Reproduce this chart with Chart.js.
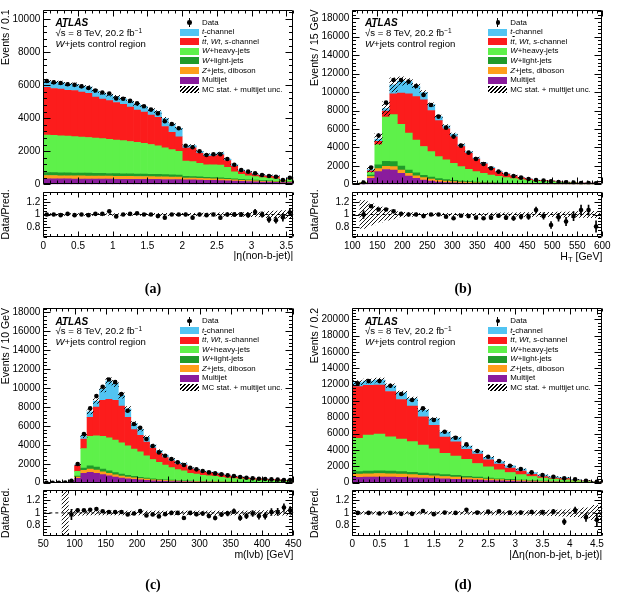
<!DOCTYPE html>
<html><head><meta charset="utf-8">
<script src="https://cdn.jsdelivr.net/npm/chart.js@4"></script>
<style>
body{margin:0;background:#fff;}
#wrap{position:relative;width:619px;height:595px;overflow:hidden;background:#fff;font-family:'Liberation Sans',Arial,Helvetica,sans-serif;color:#000;}
canvas{position:absolute;}
.t{position:absolute;white-space:nowrap;line-height:1;z-index:5;}
.t sup{font-size:0.68em;line-height:0;vertical-align:0.5em;}
.t sub{font-size:0.72em;line-height:0;vertical-align:-0.3em;}
.sw{position:absolute;width:19px;height:7px;z-index:5;}
</style></head><body><div id="wrap"></div>
<script>
// ================= DATA =================
// (a) |eta(non-b-jet)|, bins of 0.1
const aCenters=[0.05,0.15,0.25,0.35,0.45,0.55,0.65,0.75,0.85,0.95,1.05,1.15,1.25,1.35,1.45,1.55,1.65,1.75,1.85,1.95,2.05,2.15,2.25,2.35,2.45,2.55,2.65,2.75,2.85,2.95,3.05,3.15,3.25,3.35,3.45,3.55];
const aData=[6250,6170,6130,6060,6020,5930,5830,5680,5560,5500,5200,5180,5050,4900,4720,4520,4290,3820,3650,3390,2335,2240,2000,1770,1815,1815,1530,1185,865,765,665,565,500,460,260,400];
const aMJ=[330,330,325,325,320,320,315,315,310,310,305,305,300,300,300,295,295,290,290,285,270,265,255,245,235,225,215,200,185,170,155,140,130,120,100,110];
const aZ=[200,200,195,195,190,190,190,185,185,180,180,175,175,170,170,165,160,155,150,150,110,105,100,95,90,85,80,70,60,55,50,45,40,35,30,30];
const aWL=[180,180,180,175,175,175,170,170,170,165,165,160,160,155,155,150,145,140,135,130,100,95,90,85,80,75,70,60,55,50,45,40,35,30,25,25];
const aWH=[2270,2250,2240,2225,2205,2175,2155,2120,2095,2065,2030,2000,1955,1915,1855,1800,1730,1615,1525,1435,920,905,825,755,775,785,665,430,305,245,210,175,165,145,45,135];
const aTT=[2890,2840,2830,2765,2785,2720,2680,2495,2400,2345,2270,2195,2090,1955,1890,1785,1730,1300,1050,880,795,840,600,510,525,620,410,335,180,180,120,115,130,135,47,53];
const aTCH=[380,380,380,375,375,370,370,365,360,355,350,345,340,335,330,325,320,480,500,510,140,140,130,110,110,110,90,90,80,70,60,50,45,40,25,35];
const aRatio=[1,1,0.99,1.01,0.99,1,0.99,1.01,1.01,1.05,0.97,1,1.01,1.02,1,1,0.975,0.95,1,1,1,0.95,1,0.99,1,0.95,1,1,1,0.99,1.04,1,0.92,0.91,0.955,1.03];
const aErr=[0.013,0.013,0.013,0.013,0.013,0.013,0.013,0.014,0.014,0.014,0.014,0.014,0.015,0.015,0.015,0.015,0.016,0.017,0.017,0.018,0.021,0.021,0.022,0.024,0.024,0.024,0.026,0.03,0.035,0.037,0.04,0.043,0.046,0.048,0.062,0.05];
const aUnc=[0.015,0.015,0.015,0.015,0.015,0.015,0.015,0.015,0.015,0.015,0.015,0.015,0.015,0.016,0.016,0.016,0.017,0.018,0.018,0.018,0.02,0.02,0.021,0.023,0.024,0.025,0.028,0.03,0.032,0.034,0.036,0.04,0.05,0.055,0.06,0.06];
const aXTicks=[0,0.5,1,1.5,2,2.5,3,3.5];
const aYTicks=[0,2000,4000,6000,8000,10000];

// (b) H_T, bins of 15 GeV
const bCenters=[107.5,122.5,137.5,152.5,167.5,182.5,197.5,212.5,227.5,242.5,257.5,272.5,287.5,302.5,317.5,332.5,347.5,362.5,377.5,392.5,407.5,422.5,437.5,452.5,467.5,482.5,497.5,512.5,527.5,542.5,557.5,572.5,587.5];
const bData=[null,180,1810,5280,8850,11310,11310,11130,10660,9690,8600,7340,6140,5170,4190,3430,2750,2200,1735,1370,1120,900,720,580,470,400,325,250,215,180,145,145,110];
const bMJ=[0,100,650,1370,1600,1550,1180,890,650,470,350,250,200,150,120,100,80,65,55,45,38,32,27,22,18,15,12,10,8,7,6,5,5];
const bZ=[0,30,200,330,360,360,360,300,280,250,220,190,160,140,120,100,85,75,65,55,48,40,35,30,25,22,20,17,15,12,10,10,9];
const bWL=[0,15,150,400,540,540,430,350,300,250,210,180,150,130,110,95,80,70,60,50,45,38,32,28,24,20,18,15,12,10,9,8,8];
const bWH=[0,15,300,2200,4800,5100,4530,4010,3570,3130,2770,2380,2130,1860,1570,1335,1125,980,830,705,600,510,425,360,285,265,250,170,155,120,85,82,78];
const bTT=[0,5,150,350,650,2250,3380,4250,4700,5050,4450,3900,3360,2870,2160,1730,1370,1040,730,470,385,295,195,132,78,72,65,43,40,27,24,24,25];
const bTCH=[0,15,150,250,250,980,1320,1330,1160,800,650,450,350,300,220,160,140,110,90,70,55,45,35,28,22,18,15,12,10,8,6,6,5];
const bRatio=[null,1.0,1.13,1.08,1.08,1.05,1.01,1.0,1.0,0.975,1.0,1.0,0.965,0.94,0.98,0.975,0.95,0.94,0.95,0.98,0.95,0.94,0.965,0.965,1.07,0.975,0.835,0.955,0.89,0.975,1.07,1.07,0.81];
const bErr=[null,0.06,0.02,0.012,0.01,0.01,0.01,0.01,0.01,0.01,0.011,0.012,0.013,0.014,0.015,0.017,0.019,0.021,0.024,0.027,0.03,0.033,0.037,0.042,0.046,0.05,0.055,0.062,0.066,0.072,0.08,0.08,0.09];
const bUnc=[0,0.22,0.17,0.12,0.09,0.07,0.04,0.03,0.025,0.02,0.02,0.02,0.02,0.02,0.02,0.02,0.02,0.02,0.022,0.025,0.025,0.028,0.03,0.03,0.032,0.035,0.035,0.038,0.04,0.042,0.045,0.05,0.05];
const bXTicks=[100,150,200,250,300,350,400,450,500,550,600];
const bYTicks=[0,2000,4000,6000,8000,10000,12000,14000,16000,18000];

// (c) m(lvb), bins of 10 GeV
const cCenters=[55,65,75,85,95,105,115,125,135,145,155,165,175,185,195,205,215,225,235,245,255,265,275,285,295,305,315,325,335,345,355,365,375,385,395,405,415,425,435,445];
const cData=[0,0,0,20,200,1970,5140,7850,9150,10140,10910,10630,9360,7600,6200,5810,4610,3870,3200,2850,2500,2150,1870,1580,1410,1230,1090,985,880,775,705,600,530,460,420,390,350,320,280,280];
const cMJ=[0,0,0,5,150,450,1000,1100,1000,850,720,600,500,420,350,300,250,210,180,150,130,110,95,80,70,60,55,50,45,40,35,32,30,27,25,22,20,18,16,15];
const cZ=[0,0,0,0,25,150,300,350,330,300,270,240,210,185,160,140,120,105,90,80,70,60,55,48,42,37,33,30,27,24,21,19,17,15,14,12,11,10,9,8];
const cWL=[0,0,0,0,10,100,250,330,320,290,260,230,200,175,150,130,115,100,88,77,67,58,52,45,40,35,31,28,25,22,20,18,16,14,13,12,11,10,9,8];
const cWH=[0,0,0,0,15,500,2050,3120,3300,3460,3500,3430,3290,3120,2890,2680,2365,2035,1792,1543,1333,1152,1048,827,748,658,601,562,473,414,364,351,297,244,238,224,183,172,141,149];
const cTT=[0,0,0,0,5,600,1000,2000,3050,3800,4050,4200,3900,3000,2050,1750,1450,1200,950,800,700,600,600,460,430,360,340,320,260,220,200,180,160,130,120,110,95,85,70,75];
const cTCH=[0,0,0,0,0,100,340,580,630,1190,1950,1770,1120,900,660,640,500,320,290,260,200,170,180,120,110,90,90,80,70,60,50,50,40,35,30,30,25,20,15,15];
const cRatio=[null,null,null,null,0.975,1.04,1.04,1.05,1.06,1.025,1.015,1.015,1.015,0.975,0.99,1.03,0.96,0.975,0.945,0.98,1.0,1.0,0.92,1.0,0.98,0.99,0.95,0.92,0.975,0.99,1.025,0.92,0.95,0.99,0.95,0.95,1.015,1.015,1.085,1.04];
const cErr=[null,null,null,null,0.08,0.025,0.015,0.012,0.01,0.01,0.01,0.01,0.01,0.012,0.013,0.013,0.015,0.016,0.018,0.019,0.02,0.022,0.023,0.025,0.027,0.028,0.03,0.032,0.034,0.036,0.038,0.04,0.043,0.046,0.048,0.05,0.053,0.056,0.06,0.06];
const cUnc=[0,0,0,1,0.05,0.04,0.035,0.03,0.03,0.03,0.03,0.03,0.03,0.03,0.03,0.03,0.03,0.03,0.03,0.03,0.03,0.03,0.03,0.03,0.03,0.03,0.03,0.03,0.03,0.03,0.03,0.03,0.03,0.03,0.035,0.035,0.035,0.035,0.035,0.035];
const cXTicks=[50,100,150,200,250,300,350,400,450];
const cYTicks=[0,2000,4000,6000,8000,10000,12000,14000,16000,18000];

// (d) |delta eta(non-b-jet, b-jet)|, bins of 0.2
const dCenters=[0.1,0.3,0.5,0.7,0.9,1.1,1.3,1.5,1.7,1.9,2.1,2.3,2.5,2.7,2.9,3.1,3.3,3.5,3.7,3.9,4.1,4.3,4.5];
const dData=[12160,12440,12440,11870,10850,10120,9100,7670,6240,5510,4690,3880,3180,2650,2080,1670,1260,940,730,530,410,245,120];
const dMJ=[650,680,700,680,650,600,560,520,470,420,370,320,270,230,190,150,120,90,70,55,40,25,15];
const dZ=[400,420,430,420,400,380,350,320,290,260,230,200,170,140,115,95,75,58,45,35,25,15,8];
const dWL=[300,310,320,310,300,290,270,250,230,210,185,160,135,115,95,78,62,48,37,28,20,12,6];
const dWH=[4080,4420,4510,4220,3990,3750,3420,3060,2610,2360,2065,1670,1375,1095,850,667,503,374,288,242,165,98,51];
const dTT=[6340,6090,6000,5540,4850,4350,3450,2880,1990,1760,1240,1150,850,710,550,430,280,190,135,145,75,65,25];
const dTCH=[480,520,600,700,820,900,850,800,620,500,380,360,320,300,270,240,200,170,140,110,70,50,30];
const dRatio=[1.0,1.0,0.99,1.0,0.985,0.985,1.03,0.98,1.005,1.0,1.05,1.005,1.02,1.025,1.005,1.005,1.015,1.01,1.02,0.86,1.04,0.93,0.89];
const dErr=[0.01,0.01,0.01,0.01,0.01,0.01,0.011,0.012,0.013,0.014,0.015,0.017,0.018,0.02,0.022,0.025,0.028,0.033,0.037,0.045,0.05,0.065,0.09];
const dUnc=[0.02,0.02,0.02,0.02,0.02,0.02,0.02,0.02,0.02,0.025,0.025,0.025,0.03,0.03,0.03,0.03,0.035,0.04,0.045,0.05,0.06,0.08,0.12];
const dXTicks=[0,0.5,1,1.5,2,2.5,3,3.5,4,4.5];
const dYTicks=[0,2000,4000,6000,8000,10000,12000,14000,16000,18000,20000];

const ratioYTicks=[0.8,1,1.2];
const NAMES=['Multijet','Z+jets, diboson','W+light-jets','W+heavy-jets','tt\u0304, Wt, s-channel','t-channel'];
const COLS=['#8a1c9d','#ff9e1b','#1f9b2a','#5ef14a','#fc1c1c','#52c4f2'];

// ================= LAYOUT =================
const LAY={colX:[0,309],L:[43.3,352.3],R:[293.3,602.3],rowY:[0,298.4],leg:[180,488.3],info:[55.5,365]};
const PANELS=[
 {centers:aCenters,data:aData,ratio:aRatio,err:aErr,unc:aUnc,comps:[aMJ,aZ,aWL,aWH,aTT,aTCH],xMin:0,xMax:3.6,yMax:10580,xTicks:aXTicks,yTicks:aYTicks,xMinor:0.1,yMinor:400,ytitle:'Events / 0.1',xtitle:'|\u03b7(non-b-jet)|',col:0,row:0,cap:'(a)'},
 {centers:bCenters,data:bData,ratio:bRatio,err:bErr,unc:bUnc,comps:[bMJ,bZ,bWL,bWH,bTT,bTCH],xMin:100,xMax:600,yMax:18950,xTicks:bXTicks,yTicks:bYTicks,xMinor:10,yMinor:400,ytitle:'Events / 15 GeV',xtitle:null,xtitleHTML:'H<sub>T</sub> [GeV]',col:1,row:0,cap:'(b)'},
 {centers:cCenters,data:cData,ratio:cRatio,err:cErr,unc:cUnc,comps:[cMJ,cZ,cWL,cWH,cTT,cTCH],xMin:50,xMax:450,yMax:18470,xTicks:cXTicks,yTicks:cYTicks,xMinor:10,yMinor:400,ytitle:'Events / 10 GeV',xtitle:'m(l\u03bdb) [GeV]',col:0,row:1,cap:'(c)'},
 {centers:dCenters,data:dData,ratio:dRatio,err:dErr,unc:dUnc,comps:[dMJ,dZ,dWL,dWH,dTT,dTCH],xMin:0,xMax:4.6,yMax:21400,xTicks:dXTicks,yTicks:dYTicks,xMinor:0.1,yMinor:400,ytitle:'Events / 0.2',xtitle:'|\u0394\u03b7(non-b-jet, b-jet)|',col:1,row:1,cap:'(d)'}
];

Chart.defaults.font.family="'Liberation Sans', Arial, Helvetica, sans-serif";
Chart.defaults.font.size=10;
Chart.defaults.color='#000';

const wrap=document.getElementById('wrap');
function mkCanvas(x,y,w,h){const c=document.createElement('canvas');c.width=w;c.height=h;c.style.left=x+'px';c.style.top=y+'px';wrap.appendChild(c);return c;}
function hatch(ctx){const s=document.createElement('canvas');s.width=4;s.height=4;const g=s.getContext('2d');g.strokeStyle='#000';g.lineWidth=0.9;g.beginPath();g.moveTo(-1,5);g.lineTo(5,-1);g.moveTo(-1,1);g.lineTo(1,-1);g.moveTo(3,5);g.lineTo(5,3);g.stroke();return ctx.createPattern(s,'repeat');}
function tickVals(min,max,step){const out=[];const s=Math.ceil(min/step-1e-6),e=Math.floor(max/step+1e-6);for(let k=s;k<=e;k++)out.push(k*step);return out;}
function makeFrame(c){
 return {id:'frame',afterDatasetsDraw(chart){
  const ctx=chart.ctx,a=chart.chartArea,xs=chart.scales.x,ys=chart.scales.y;
  ctx.save();ctx.strokeStyle='#000';ctx.lineWidth=1;
  const L=Math.round(a.left)+0.5,R=Math.round(a.right)-0.5,T=Math.round(a.top)+0.5,B=Math.round(a.bottom)-0.5;
  ctx.beginPath();ctx.rect(L,T,R-L,B-T);
  tickVals(xs.min,xs.max,c.xMinor).forEach(v=>{const maj=c.xMajor.some(m=>Math.abs(m-v)<c.xMinor*1e-3);const len=maj?c.xLen:c.xLen/2;const px=Math.round(xs.getPixelForValue(v))+0.5;ctx.moveTo(px,B);ctx.lineTo(px,B-len);ctx.moveTo(px,T);ctx.lineTo(px,T+len);});
  tickVals(ys.min,ys.max,c.yMinor).forEach(v=>{const maj=c.yMajor.some(m=>Math.abs(m-v)<c.yMinor*1e-3);const len=maj?c.yLen:c.yLen/2;const py=Math.round(ys.getPixelForValue(v))+0.5;ctx.moveTo(L,py);ctx.lineTo(L+len,py);ctx.moveTo(R,py);ctx.lineTo(R-len,py);});
  ctx.stroke();ctx.restore();
 }};
}
const fmt=v=>String(v);

function mainChart(p){
 const colX=LAY.colX[p.col],L=LAY.L[p.col],R=LAY.R[p.col],ry=LAY.rowY[p.row];
 const W=310,H=200,top=Math.round(ry)-5,T=ry+9.5,B=ry+184.3;
 const cv=mkCanvas(colX,top,W,H);const ctx=cv.getContext('2d');const pat=hatch(ctx);
 const totals=p.centers.map((c,i)=>p.comps.reduce((s,arr)=>s+arr[i],0));
 const ds=[];
 ds.push({type:'line',label:'Data',data:p.centers.map((c,i)=>({x:c,y:p.data[i]})).filter(d=>d.y!==null),showLine:false,pointRadius:2.3,pointHoverRadius:2.3,pointBackgroundColor:'#000',pointBorderColor:'#000',pointBorderWidth:0,borderColor:'#000',yAxisID:'y2',order:1});
 ds.push({type:'bar',label:'MC stat. + multijet unc.',data:p.centers.map((c,i)=>({x:c,y:[totals[i]*(1-p.unc[i]),totals[i]*(1+p.unc[i])]})).filter((d,i)=>totals[i]>0&&p.unc[i]>0),backgroundColor:pat,borderWidth:0,grouped:false,barPercentage:1,categoryPercentage:1,yAxisID:'y2',order:2});
 p.comps.forEach((arr,k)=>ds.push({type:'bar',label:NAMES[k],data:p.centers.map((c,i)=>({x:c,y:arr[i]})),backgroundColor:COLS[k],borderWidth:0,grouped:false,barPercentage:1,categoryPercentage:1,stack:'mc',yAxisID:'y',order:3}));
 new Chart(ctx,{type:'bar',data:{datasets:ds},
  options:{responsive:false,maintainAspectRatio:false,animation:false,devicePixelRatio:1,events:[],
   layout:{padding:{left:0,right:colX+W-R,top:T-top,bottom:top+H-B}},
   plugins:{legend:{display:false},tooltip:{enabled:false}},
   scales:{
    x:{type:'linear',min:p.xMin,max:p.xMax,offset:false,display:false,grid:{display:false,offset:false},afterBuildTicks:s=>{s.ticks=p.xTicks.map(v=>({value:v}));}},
    y:{type:'linear',position:'left',stacked:true,min:0,max:p.yMax,grid:{display:false,drawTicks:false},border:{display:false},
       ticks:{padding:3,autoSkip:false,callback:fmt},afterBuildTicks:s=>{s.ticks=p.yTicks.map(v=>({value:v}));},afterFit:s=>{s.width=L-colX;},
       title:{display:true,text:p.ytitle,align:'end',padding:0,font:{size:10.5}}},
    y2:{type:'linear',display:false,min:0,max:p.yMax}
   }},
  plugins:[makeFrame({xMajor:p.xTicks,xMinor:p.xMinor,yMajor:p.yTicks,yMinor:p.yMinor,xLen:6,yLen:7})]});
}

function ratioChart(p){
 const colX=LAY.colX[p.col],L=LAY.L[p.col],R=LAY.R[p.col],ry=LAY.rowY[p.row];
 const W=310,H=92,top=Math.round(ry)+176,T=ry+191.7,B=ry+237.3,XH=25.5;
 const cv=mkCanvas(colX,top,W,H);const ctx=cv.getContext('2d');const pat=hatch(ctx);
 const ds=[];
 ds.push({type:'line',label:'Data/Pred.',data:p.centers.map((c,i)=>({x:c,y:p.ratio[i]})).filter(d=>d.y!==null),showLine:false,pointRadius:2.3,pointHoverRadius:2.3,pointBackgroundColor:'#000',pointBorderColor:'#000',pointBorderWidth:0,borderColor:'#000',order:1});
 ds.push({type:'bar',label:'stat. err.',data:p.centers.map((c,i)=>({x:c,y:p.ratio[i]===null?null:[p.ratio[i]-p.err[i],p.ratio[i]+p.err[i]]})).filter(d=>d.y!==null),backgroundColor:'#000',borderWidth:0,grouped:false,barThickness:1,order:2});
 ds.push({type:'bar',label:'MC stat. + multijet unc.',data:p.centers.map((c,i)=>({x:c,y:[1-p.unc[i],1+p.unc[i]]})).filter((d,i)=>p.unc[i]>0),backgroundColor:pat,borderWidth:0,grouped:false,barPercentage:1,categoryPercentage:1,order:3});
 ds.push({type:'line',label:'unity',data:[{x:p.xMin,y:1},{x:p.xMax,y:1}],borderColor:'#000',borderWidth:1,borderDash:[3,3],pointRadius:0,order:4});
 new Chart(ctx,{type:'bar',data:{datasets:ds},
  options:{responsive:false,maintainAspectRatio:false,animation:false,devicePixelRatio:1,events:[],
   layout:{padding:{left:0,right:colX+W-R,top:T-top,bottom:top+H-B-XH}},
   plugins:{legend:{display:false},tooltip:{enabled:false}},
   scales:{
    x:{type:'linear',min:p.xMin,max:p.xMax,offset:false,grid:{display:false,drawTicks:false,offset:false},border:{display:false},
       ticks:{padding:3,autoSkip:false,maxRotation:0,callback:fmt},afterBuildTicks:s=>{s.ticks=p.xTicks.map(v=>({value:v}));},afterFit:s=>{s.height=XH;},
       title:{display:p.xtitle!==null,text:p.xtitle||'',align:'end',padding:0,font:{size:10.5}}},
    y:{type:'linear',min:0.64,max:1.36,grid:{display:false,drawTicks:false},border:{display:false},
       ticks:{padding:3,autoSkip:false,callback:fmt},afterBuildTicks:s=>{s.ticks=ratioYTicks.map(v=>({value:v}));},afterFit:s=>{s.width=L-colX;},
       title:{display:true,text:'Data/Pred.',align:'center',padding:0,font:{size:10.5}}}
   }},
  plugins:[makeFrame({xMajor:p.xTicks,xMinor:p.xMinor,yMajor:ratioYTicks,yMinor:0.05,xLen:5,yLen:7})]});
}

function addText(html,x,yc,size,extra){const d=document.createElement('div');d.className='t';d.style.left=x+'px';d.style.top=(yc-size*0.5)+'px';d.style.fontSize=size+'px';if(extra)Object.assign(d.style,extra);d.innerHTML=html;wrap.appendChild(d);return d;}
function addBox(x,y,w,h,bg,extra){const d=document.createElement('div');d.style.position='absolute';d.style.zIndex=5;d.style.left=x+'px';d.style.top=y+'px';d.style.width=w+'px';d.style.height=h+'px';d.style.background=bg;if(extra)Object.assign(d.style,extra);wrap.appendChild(d);return d;}

function annotate(p){
 const ry=LAY.rowY[p.row],ix=LAY.info[p.col],lx=LAY.leg[p.col];
 addText('<b><i>ATLAS</i></b>',ix,ry+23.3,10);
 addText('\u221a<span style="text-decoration:overline">s</span> = 8 TeV, 20.2 fb<sup>\u22121</sup>',ix,ry+32.6,9.6);
 addText('<i>W</i>+jets control region',ix,ry+43.5,9.6);
 const rows=['Data','<i>t</i>-channel','<i>t</i><span style="text-decoration:overline"><i>t</i></span>, <i>Wt</i>, <i>s</i>-channel','<i>W</i>+heavy-jets','<i>W</i>+light-jets','<i>Z</i>+jets, diboson','Multijet','MC stat. + multijet unc.'];
 const sw=[null,COLS[5],COLS[4],COLS[3],COLS[2],COLS[1],COLS[0],'hatch'];
 rows.forEach((h,i)=>{
  const y=ry+22.7+i*9.55;
  addText(h,lx+22,y,7.9);
  if(i===0){addBox(lx+9,y-4.5,1,9,'#000');addBox(lx+7.2,y-2.3,4.6,4.6,'#000',{borderRadius:'50%'});}
  else if(sw[i]==='hatch'){addBox(lx,y-3.5,19,7,'repeating-linear-gradient(-45deg,#000 0px,#000 0.9px,#fff 0.9px,#fff 2.8px)');}
  else addBox(lx,y-3.5,19,7,sw[i]);
 });
 const cx=p.col===0?153:463,cy=p.row===0?289:585;
 addText('<b>'+p.cap+'</b>',cx,cy,14,{fontFamily:"'Liberation Serif','Times New Roman',serif",transform:'translateX(-50%)'});
 if(p.xtitleHTML){addText(p.xtitleHTML,0,ry+256.5,10.5,{left:'auto',right:(619-LAY.R[p.col])+'px'});}
}

PANELS.forEach(p=>{mainChart(p);ratioChart(p);});
PANELS.forEach(p=>annotate(p));
</script></body></html>
